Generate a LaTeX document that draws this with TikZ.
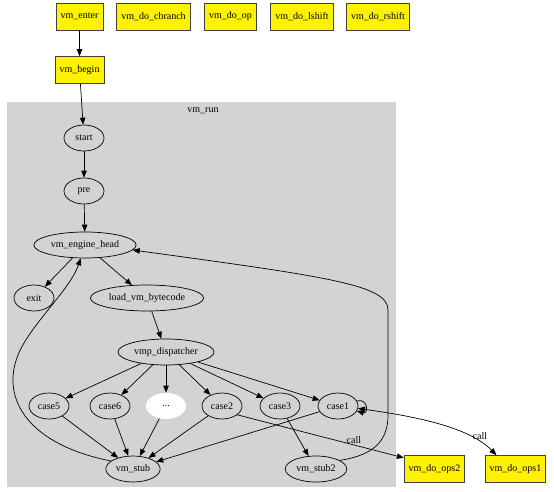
\documentclass[tikz,border=0pt]{standalone}
\usepackage{fontspec}
\setmainfont{Liberation Serif}
\usepackage{xcolor}
\usetikzlibrary{shapes.geometric, positioning, arrows.meta}

\definecolor{clustergray}{HTML}{D3D3D3}

\begin{document}
\begin{tikzpicture}[
    x=1pt, y=1pt, ->, >={Triangle[length=7pt, width=5.5pt]}, line width=0.7pt,
    font=\fontsize{10}{12}\selectfont,
    fn/.style={rectangle, draw=black!75, fill=yellow, minimum height=27pt, inner xsep=4.5pt},
    blk/.style={ellipse, draw, minimum width=40pt, minimum height=26pt, inner xsep=2pt, inner ysep=0pt},
    hole/.style={blk, draw=none, fill=white},
    lbl/.style={inner sep=1pt, above}
]
    \useasboundingbox (0,0) rectangle (554,-492);
    \fill[clustergray] (7,-102) rectangle (396,-487);
    \node (run) at (203,-111) {vm\_run};

    % functions outside the cluster
    \node[fn] (enter) at (79.5,-16.5) {vm\_enter};
    \node[fn] (cbranch) at (153.5,-16.5) {vm\_do\_cbranch};
    \node[fn] (doop) at (230.5,-16.5) {vm\_do\_op};
    \node[fn] (lshift) at (302,-16.5) {vm\_do\_lshift};
    \node[fn] (rshift) at (378,-16.5) {vm\_do\_rshift};
    \node[fn] (begin) at (79.5,-70) {vm\_begin};
    \node[fn] (ops2) at (434.5,-469) {vm\_do\_ops2};
    \node[fn] (ops1) at (515.5,-469) {vm\_do\_ops1};

    % blocks of vm_run
    \node[blk] (start) at (84,-138) {start};
    \node[blk] (pre) at (84,-191) {pre};
    \node[blk] (head) at (85,-245) {vm\_engine\_head};
    \node[blk] (exit) at (34,-298) {exit};
    \node[blk] (load) at (147,-298) {load\_vm\_bytecode};
    \node[blk] (disp) at (166,-352) {vmp\_dispatcher};
    \node[blk] (c5) at (49,-406) {case5};
    \node[blk] (c6) at (110,-406) {case6};
    \node[hole] (dots) at (166,-406) {...};
    \node[blk] (c2) at (222,-406) {case2};
    \node[blk] (c3) at (280,-406) {case3};
    \node[blk] (c1) at (338,-406) {case1};
    \node[blk] (stub) at (133,-469) {vm\_stub};
    \node[blk] (stub2) at (316,-469) {vm\_stub2};

    \path
        (enter) edge (begin)
        (begin) edge (start)
        (start) edge (pre)
        (pre) edge (head)
        (head) edge (exit)
        (head) edge (load)
        (load) edge (disp)
        (disp) edge (c5)
        (disp) edge (c6)
        (disp) edge (dots)
        (disp) edge (c2)
        (disp) edge (c3)
        (disp) edge (c1)
        (c5) edge (stub)
        (c6) edge (stub)
        (dots) edge (stub)
        (c2) edge (stub)
        (c1) edge (stub)
        (c3) edge (stub2)
        (c1) edge [loop right, min distance=12pt] (c1)
        (c2.-30) edge node [lbl, pos=0.7] {call} (ops2.160);

    % call edge to ops1 and back edges to the engine head
    \draw[<->] (c1.-7) .. controls (420,-417) and (470,-428) .. (ops1.144)
        node [lbl, pos=0.8, xshift=2pt] {call};
    \draw (stub.160) .. controls (30,-445) and (0,-400) .. (18,-355)
        .. controls (30,-325) and (70,-290) .. (head.-108);
    \draw (stub2.20) .. controls (375,-455) and (388,-440) .. (388,-415)
        -- (388,-310) .. controls (388,-285) and (330,-277) .. (head.-6);
\end{tikzpicture}
\end{document}
